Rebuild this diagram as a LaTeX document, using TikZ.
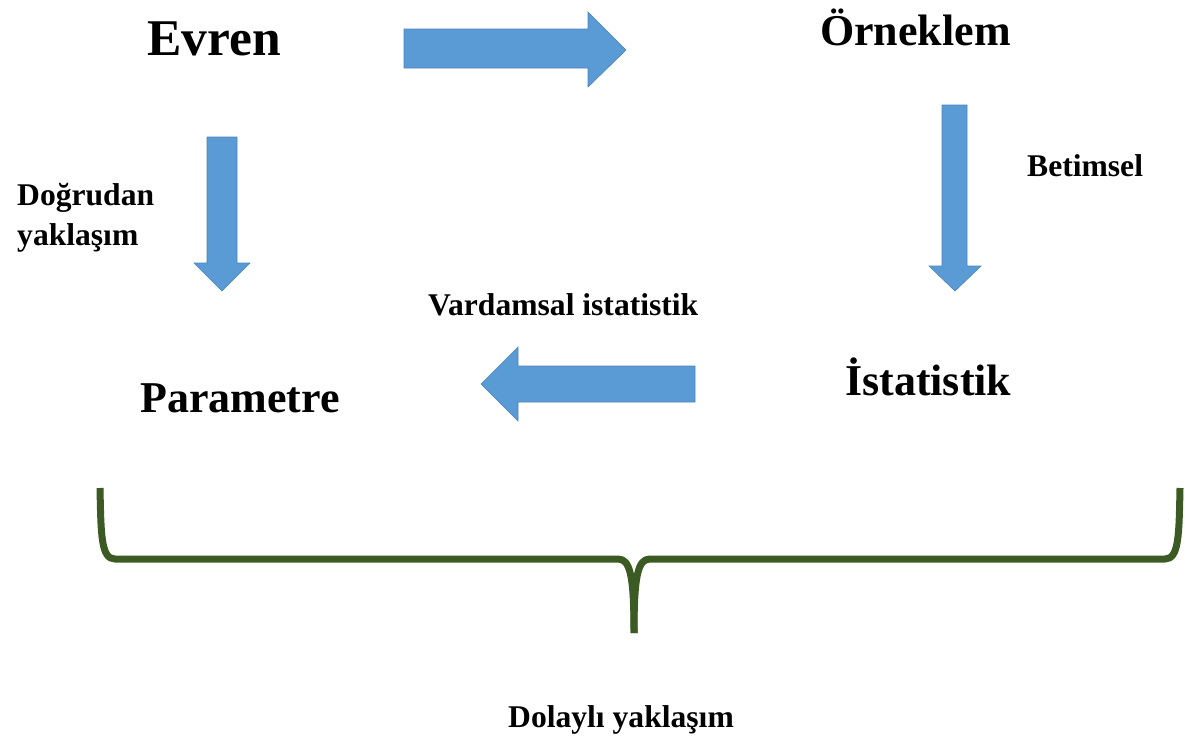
\documentclass[tikz,border=0pt]{standalone}
\usepackage{fontspec}
\setmainfont{Liberation Serif}
\definecolor{arrowblue}{HTML}{5B9BD5}
\definecolor{arrowedge}{HTML}{4A84BA}
\definecolor{bracegreen}{HTML}{3C5A24}
\begin{document}
\begin{tikzpicture}[x=1pt,y=1pt,
  blockarrow/.style={fill=arrowblue,draw=arrowedge,line width=0.6pt,line join=miter},
  bigtext/.style={inner sep=0pt,anchor=base west,font=\fontsize{44}{50}\selectfont\bfseries},
  smalltext/.style={inner sep=0pt,anchor=base west,font=\fontsize{31.6}{39}\selectfont\bfseries},
  bracestyle/.style={draw=bracegreen,line width=7pt,line cap=butt,line join=round}]
\useasboundingbox (0,0) rectangle (1185,-742);
% texts
\node[bigtext,font=\fontsize{51.5}{56}\selectfont\bfseries] (evren) at (147,-55) {Evren};
\node[bigtext] (orneklem) at (820,-45) {Örneklem};
\node[bigtext] (parametre) at (140,-412) {Parametre};
\node[bigtext] (istatistik) at (845,-395) {İstatistik};
\node[smalltext] (betimsel) at (1027,-176) {Betimsel};
\node[smalltext] (vardamsal) at (428,-315) {Vardamsal istatistik};
\node[smalltext] (dogrudan) at (17,-205) {Doğrudan};
\node[smalltext] (yaklasim) at (17,-245) {yaklaşım};
\node[smalltext] (dolayli) at (508,-727) {Dolaylı yaklaşım};
% block arrows
\draw[blockarrow] (404,-29) -- (588,-29) -- (588,-12) -- (626,-50) -- (588,-87) -- (588,-68) -- (404,-68) -- cycle;
\draw[blockarrow] (942,-105) -- (967,-105) -- (967,-266) -- (981,-266) -- (955,-291) -- (929,-266) -- (942,-266) -- cycle;
\draw[blockarrow] (207,-137) -- (237,-137) -- (237,-263) -- (250,-263) -- (222,-291) -- (194,-263) -- (207,-263) -- cycle;
\draw[blockarrow] (695,-366) -- (518,-366) -- (518,-347) -- (481,-384) -- (518,-421) -- (518,-402) -- (695,-402) -- cycle;
% brace
\coordinate (bl) at (100,-488);
\coordinate (br) at (1180,-488);
\coordinate (tip) at (634,-633);
\draw[bracestyle] (bl) .. controls (101,-535) and (101,-559) .. (115,-559) -- (618,-559)
  .. controls (630,-559) and (634,-575) .. (tip);
\draw[bracestyle] (br) .. controls (1179,-535) and (1179,-559) .. (1165,-559) -- (650,-559)
  .. controls (638,-559) and (634,-575) .. (tip);
\end{tikzpicture}
\end{document}
